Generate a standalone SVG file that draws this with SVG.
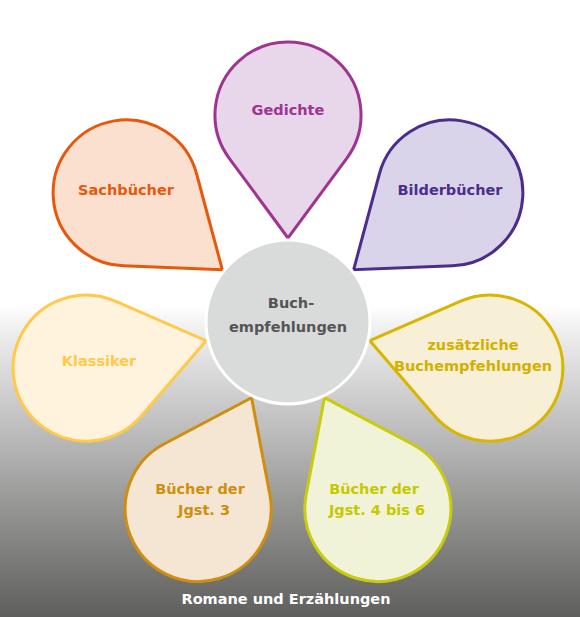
<svg xmlns="http://www.w3.org/2000/svg" width="580" height="617" viewBox="0 0 580 617">
<defs>
<linearGradient id="bg" x1="0" y1="305" x2="0" y2="617" gradientUnits="userSpaceOnUse">
<stop offset="0" stop-color="#ffffff"/>
<stop offset="0.08" stop-color="#eeefee"/>
<stop offset="0.45" stop-color="#b4b5b4"/>
<stop offset="1" stop-color="#5e5e5c"/>
</linearGradient>
<path id="drop" d="M288 238 L229.25 158.3 A73 73 0 1 1 346.75 158.3 Z"/>
</defs>
<style>
.petal{stroke-width:3;stroke-linejoin:miter}
.t{font-family:"Comic Sans MS","DejaVu Sans",sans-serif;font-weight:bold;font-size:14.5px;text-anchor:middle}
</style>
<rect x="0" y="0" width="580" height="617" fill="#ffffff"/>
<rect x="0" y="305" width="580" height="312" fill="url(#bg)"/>

<g id="gedichte">
<use href="#drop" class="petal" fill="#e8d6ea" stroke="#9e3592"/>
<text class="t" x="288" y="115" fill="#9e3592">Gedichte</text>
</g>
<g id="bilderbuecher">
<use href="#drop" class="petal" fill="#d9d4ea" stroke="#4d2d8c" transform="rotate(51.43 288 322)"/>
<text class="t" x="450" y="195" fill="#4d2d8c">Bilderbücher</text>
</g>
<g id="zusaetzliche">
<use href="#drop" class="petal" fill="#f7efd6" stroke="#d9b500" transform="rotate(102.86 288 322)"/>
<text class="t" x="473" y="350" fill="#d4b000">zusätzliche</text>
<text class="t" x="473" y="371" fill="#d4b000">Buchempfehlungen</text>
</g>
<g id="jgst46">
<use href="#drop" class="petal" fill="#f1f3d8" stroke="#c9cc0a" transform="rotate(154.29 288 322)"/>
<text class="t" x="374" y="494" fill="#c6c800">Bücher der</text>
<text class="t" x="377" y="515" fill="#c6c800">Jgst. 4 bis 6</text>
</g>
<g id="jgst3">
<use href="#drop" class="petal" fill="#f5e6d3" stroke="#d08e0f" transform="rotate(205.71 288 322)"/>
<text class="t" x="200" y="494" fill="#d08e0f">Bücher der</text>
<text class="t" x="204" y="515" fill="#d08e0f">Jgst. 3</text>
</g>
<g id="klassiker">
<use href="#drop" class="petal" fill="#fff3dd" stroke="#ffc94a" transform="rotate(257.14 288 322)"/>
<text class="t" x="99" y="366" fill="#ffc94a">Klassiker</text>
</g>
<g id="sachbuecher">
<use href="#drop" class="petal" fill="#fbe0d0" stroke="#e8580c" transform="rotate(308.57 288 322)"/>
<text class="t" x="126" y="195" fill="#e8580c">Sachbücher</text>
</g>
<g id="center">
<circle cx="288" cy="322" r="82" fill="#d9dbda" stroke="#ffffff" stroke-width="3"/>
<text class="t" x="291" y="308" fill="#555555">Buch-</text>
<text class="t" x="288" y="332" fill="#555555">empfehlungen</text>
</g>
<text class="t" x="286" y="604" fill="#ffffff">Romane und Erzählungen</text>
</svg>
